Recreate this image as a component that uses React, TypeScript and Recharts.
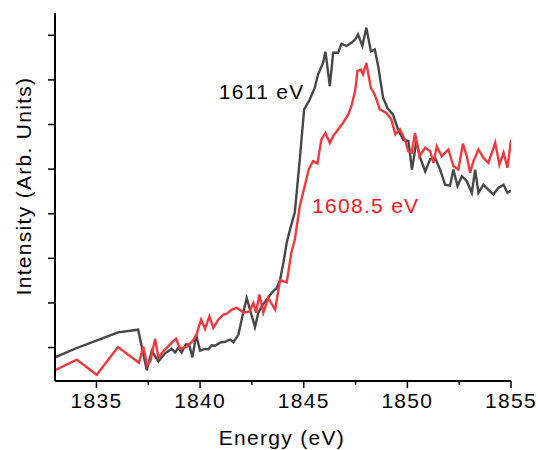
import { LineChart, Line, XAxis, YAxis, ReferenceDot } from 'recharts'

// energies (eV) and intensities (arb. units)
const grayEnergy = [
  1833.0, 1834.05, 1835.03, 1836.04, 1837.01, 1837.43, 1837.67, 1837.99, 1838.31, 1838.63,
  1838.79, 1838.95, 1839.11, 1839.31, 1839.47, 1839.63, 1839.81, 1840.0, 1840.24, 1840.4,
  1840.56, 1840.72, 1840.96, 1841.2, 1841.45, 1841.61, 1841.85, 1842.06, 1842.25, 1842.45,
  1842.65, 1842.81, 1842.98, 1843.22, 1843.46, 1843.7, 1843.86, 1844.02, 1844.18, 1844.34,
  1844.57, 1844.81, 1845.02, 1845.29, 1845.53, 1845.69, 1845.93, 1846.05, 1846.26, 1846.42,
  1846.66, 1846.82, 1847.06, 1847.3, 1847.49, 1847.62, 1847.83, 1848.02, 1848.24, 1848.43,
  1848.59, 1848.83, 1849.04, 1849.31, 1849.55, 1849.8, 1850.05, 1850.22, 1850.44, 1850.62,
  1850.86, 1851.1, 1851.34, 1851.58, 1851.82, 1852.06, 1852.22, 1852.42, 1852.63, 1852.87,
  1853.11, 1853.27, 1853.43, 1853.67, 1853.9, 1854.15, 1854.39, 1854.64, 1854.83, 1855.0,
]
const grayIntensity = [
  -0.22, -0.01, 0.16, 0.34, 0.4, -0.51, -0.07, -0.31, -0.13, -0.03,
  -0.11, -0.01, -0.11, 0.07, 0.07, -0.22, 0.29, -0.07, -0.03, -0.04,
  0.05, 0.04, 0.11, 0.13, 0.18, 0.12, 0.29, 0.74, 1.11, 0.78,
  0.46, 0.78, 0.93, 1.08, 1.23, 1.34, 1.52, 1.9, 2.35, 2.65,
  3.03, 4.22, 5.34, 5.56, 5.82, 6.12, 6.38, 6.63, 5.86, 6.61,
  6.61, 6.81, 6.76, 6.83, 6.91, 7.02, 6.76, 7.17, 6.64, 6.68,
  6.31, 5.6, 5.37, 5.22, 4.89, 4.66, 4.63, 3.99, 4.63, 4.25,
  3.95, 4.22, 4.25, 3.99, 3.65, 3.63, 3.99, 3.62, 3.84, 3.73,
  3.47, 3.99, 3.47, 3.65, 3.54, 3.43, 3.58, 3.65, 3.47, 3.52,
]

const redEnergy = [
  1833.0, 1834.05, 1835.01, 1836.04, 1837.05, 1837.26, 1837.45, 1837.62, 1837.83, 1837.99,
  1838.23, 1838.47, 1838.84, 1839.03, 1839.36, 1839.67, 1839.84, 1840.05, 1840.24, 1840.45,
  1840.64, 1840.88, 1841.12, 1841.29, 1841.53, 1841.77, 1841.93, 1842.09, 1842.38, 1842.57,
  1842.7, 1842.86, 1843.05, 1843.29, 1843.62, 1843.86, 1844.18, 1844.4, 1844.57, 1844.81,
  1845.05, 1845.24, 1845.45, 1845.66, 1845.85, 1846.05, 1846.26, 1846.42, 1846.66, 1846.9,
  1847.14, 1847.3, 1847.49, 1847.59, 1847.75, 1847.86, 1848.02, 1848.24, 1848.43, 1848.67,
  1848.99, 1849.23, 1849.42, 1849.64, 1849.88, 1850.05, 1850.21, 1850.37, 1850.58, 1850.86,
  1851.1, 1851.26, 1851.42, 1851.66, 1851.98, 1852.22, 1852.46, 1852.68, 1852.87, 1853.03,
  1853.19, 1853.43, 1853.67, 1853.91, 1854.24, 1854.44, 1854.64, 1854.83, 1855.0,
]
const redIntensity = [
  -0.51, -0.27, -0.61, 0.01, -0.34, 0.02, -0.4, -0.28, 0.2, -0.23,
  -0.08, 0.03, 0.2, -0.03, 0.02, 0.16, 0.31, 0.63, 0.42, 0.7,
  0.44, 0.63, 0.74, 0.76, 0.85, 0.89, 0.84, 0.78, 0.81, 1.0,
  0.78, 1.19, 0.78, 1.11, 0.85, 1.51, 1.46, 2.12, 2.42, 3.17,
  3.62, 3.99, 4.18, 4.13, 4.66, 4.81, 4.59, 4.74, 4.89, 5.04,
  5.22, 5.41, 5.78, 6.2, 6.23, 6.12, 6.38, 5.82, 5.67, 5.34,
  5.26, 5.11, 4.78, 4.89, 4.66, 4.4, 4.37, 4.81, 4.29, 4.48,
  4.4, 4.14, 4.51, 4.29, 4.44, 4.07, 3.99, 4.57, 4.29, 3.92,
  4.18, 4.44, 4.25, 4.14, 4.59, 4.1, 4.37, 4.03, 4.66,
]

const xTicks = [1835, 1837.5, 1840, 1842.5, 1845, 1847.5, 1850, 1852.5, 1855]
const yTicks = [-0.5, 0, 0.5, 1, 1.5, 2, 2.5, 3, 3.5, 4, 4.5, 5, 5.5, 6, 6.5, 7]

const GRAY = '#474747'
const RED = '#f2383c'
const FONT = '"Liberation Sans", Arial, sans-serif'
const textStyle = { fontFamily: FONT, fontSize: 21, letterSpacing: 1.3 }

const grayData = grayEnergy.map((e, i) => ({ e, v: grayIntensity[i] }))
const redData = redEnergy.map((e, i) => ({ e, v: redIntensity[i] }))

const XTick = ({ x, y, payload }: any) => {
  const major = payload.value % 5 === 0
  return (
    <g>
      <line x1={x} x2={x} y1={y} y2={y + (major ? 7 : 4)} stroke="#000" strokeWidth={1.5} />
      {major && (
        <text x={x} y={y + 27} textAnchor="middle" fill="#000" style={textStyle}>
          {payload.value}
        </text>
      )}
    </g>
  )
}

const YTick = ({ x, y, payload }: any) => {
  const major = Number.isInteger(payload.value)
  return <line x1={x} x2={x - (major ? 7 : 4)} y1={y} y2={y} stroke="#000" strokeWidth={1.5} />
}

const annotation = (text: string, color: string) => (props: any) => {
  const vb = props.viewBox || {}
  return (
    <text x={vb.x} y={vb.y} dy="0.355em" textAnchor="middle" fill={color} style={textStyle}>
      {text}
    </text>
  )
}

export default function App() {
  return (
    <div style={{ position: 'absolute', left: 0, top: 0, background: '#fff' }}>
      <LineChart width={538} height={450} margin={{ top: 13, right: 27, bottom: 0, left: 0 }}>
        <XAxis
          type="number"
          dataKey="e"
          domain={[1833, 1855]}
          ticks={xTicks}
          allowDataOverflow
          height={69}
          tickSize={0}
          tickMargin={0}
          tickLine={false}
          tick={<XTick />}
          axisLine={{ stroke: '#000', strokeWidth: 2 }}
          label={() => (
            <text x={282} y={438} dy="0.355em" textAnchor="middle" fill="#000" style={textStyle}>
              Energy (eV)
            </text>
          )}
        />
        <YAxis
          type="number"
          domain={[-0.75, 7.5]}
          ticks={yTicks}
          allowDataOverflow
          width={55}
          tickSize={0}
          tickMargin={0}
          tickLine={false}
          tick={<YTick />}
          axisLine={{ stroke: '#000', strokeWidth: 2 }}
          label={() => (
            <text
              x={24}
              y={186}
              dy="0.355em"
              textAnchor="middle"
              fill="#000"
              transform="rotate(-90, 24, 186)"
              style={textStyle}
            >
              Intensity (Arb. Units)
            </text>
          )}
        />
        <Line
          data={grayData}
          dataKey="v"
          type="linear"
          stroke={GRAY}
          strokeWidth={2.4}
          dot={false}
          isAnimationActive={false}
        />
        <Line
          data={redData}
          dataKey="v"
          type="linear"
          stroke={RED}
          strokeWidth={2.4}
          dot={false}
          isAnimationActive={false}
        />
        <ReferenceDot
          x={1842.97}
          y={5.74}
          r={0}
          fill="none"
          stroke="none"
          label={annotation('1611 eV', '#000')}
        />
        <ReferenceDot
          x={1847.99}
          y={3.18}
          r={0}
          fill="none"
          stroke="none"
          label={annotation('1608.5 eV', '#f5191e')}
        />
      </LineChart>
    </div>
  )
}
